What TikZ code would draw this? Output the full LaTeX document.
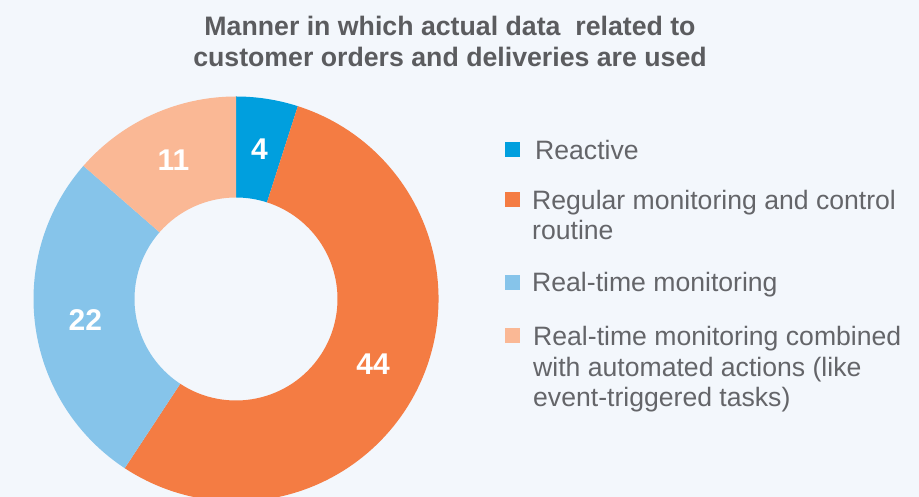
\documentclass[tikz,border=0pt]{standalone}
\usepackage{fontspec}
\setmainfont{Liberation Sans}
\usepackage{tikz}
\usetikzlibrary{%
  calc,%
  positioning%
}
\definecolor{bgcol}{HTML}{F3F7FC}
\definecolor{titlecol}{HTML}{5B5C5F}
\definecolor{legcol}{HTML}{646569}
\definecolor{reactcol}{HTML}{009FDE}
\definecolor{regcol}{HTML}{F47C43}
\definecolor{rtcol}{HTML}{86C4EA}
\definecolor{autocol}{HTML}{FAB895}
\newcommand{\Rout}{202.5}
\newcommand{\Rin}{101.5}

\begin{document}
\begin{tikzpicture}[x=1pt, y=1pt,
  val/.style={text=white, font=\bfseries\fontsize{30}{30}\selectfont, inner sep=0pt},
  legsq/.style={minimum size=15pt, inner sep=0pt},
  legtxt/.style={anchor=base west, align=left, inner sep=0pt, text=legcol,
    font=\fontsize{26.6}{30.5}\selectfont}]
\fill[bgcol] (0,0) rectangle (919,497);
\useasboundingbox (0,0) rectangle (919,497);
\clip (0,0) rectangle (919,497);

\coordinate (c) at (236,198);

% ring
\fill[reactcol] ([shift={(90:\Rout)}]c) arc (90:72.222:\Rout)
	-- ([shift={(72.222:\Rin)}]c) arc (72.222:90:\Rin) -- cycle;
\fill[regcol] ([shift={(72.222:\Rout)}]c) arc (72.222:-123.333:\Rout)
	-- ([shift={(-123.333:\Rin)}]c) arc (-123.333:72.222:\Rin) -- cycle;
\fill[rtcol] ([shift={(-123.333:\Rout)}]c) arc (-123.333:-221.111:\Rout)
	-- ([shift={(-221.111:\Rin)}]c) arc (-221.111:-123.333:\Rin) -- cycle;
\fill[autocol] ([shift={(-221.111:\Rout)}]c) arc (-221.111:-270:\Rout)
	-- ([shift={(-270:\Rin)}]c) arc (-270:-221.111:\Rin) -- cycle;

\node[val] (v4) at ([shift={(81.1:152)}]c) {4};
\node[val] (v44) at ([shift={(-25.6:152)}]c) {44};
\node[val] (v22) at ([shift={(-172.2:152)}]c) {22};
\node[val] (v11) at ([shift={(114.3:152)}]c) {11};

% title (base = last line)
\node[align=center, text=titlecol, font=\bfseries\fontsize{26.7}{30.7}\selectfont,
  anchor=base] (title) at (450,430.3) {Manner in which actual data\ \ related to\\customer orders and deliveries are used};

% legend
\node[legsq, fill=reactcol] (sq1) at (512.5,347) {};
\node[legsq, fill=regcol] (sq2) at (512.5,297) {};
\node[legsq, fill=rtcol] (sq3) at (512.5,214.5) {};
\node[legsq, fill=autocol] (sq4) at (512.5,161.5) {};

\node[legtxt] (l1) at (535,337.7) {Reactive};
\node[legtxt] (l2) at (532,257) {Regular monitoring and control\\routine};
\node[legtxt] (l3) at (532,205) {Real-time monitoring};
\node[legtxt] (l4) at (533,90.3) {Real-time monitoring combined\\with automated actions (like\\event-triggered tasks)};
\end{tikzpicture}
\end{document}
